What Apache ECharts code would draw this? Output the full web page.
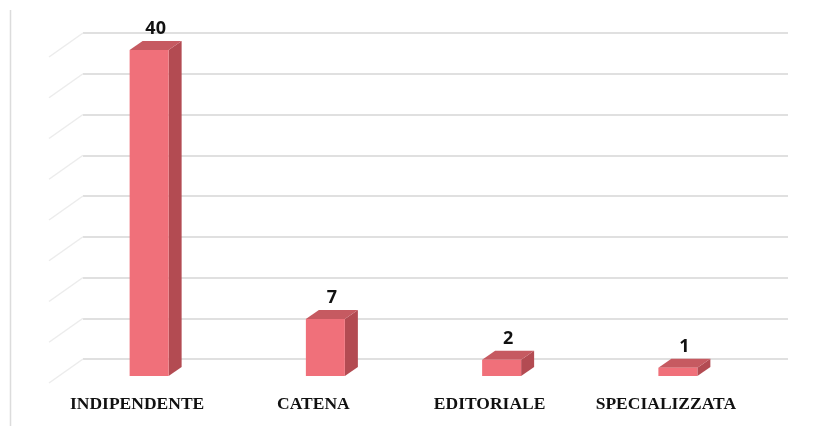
<!DOCTYPE html>
<html>
<head>
<meta charset="utf-8">
<script src="https://cdn.jsdelivr.net/npm/echarts@6/dist/echarts.min.js"></script>
<style>html,body{margin:0;padding:0;background:#fff;}#c{width:823px;height:426px;}</style>
</head>
<body>
<div id="c"></div>
<script>
var categories = ['INDIPENDENTE', 'CATENA', 'EDITORIALE', 'SPECIALIZZATA'];
var values = [40, 7, 2, 1];
var tickValues = [0, 5, 10, 15, 20, 25, 30, 35, 40];

var FRONT = '#F0707A', SIDE = '#B34B52', TOP = '#C65A61';

var chart = echarts.init(document.getElementById('c'));

function barItem(params, api) {
  var i = api.value(0), v = api.value(1);
  var top = api.coord([i, v]), base = api.coord([i, 0]);
  var cx = top[0] - 22, yt = top[1] + 17, yb = base[1] + 17;
  var w = 39, dx = 13, dy = -9;
  var x0 = cx - w / 2, x1 = cx + w / 2;
  return {
    type: 'group',
    children: [
      { type: 'polygon', shape: { points: [[x1, yt], [x1 + dx, yt + dy], [x1 + dx, yb + dy], [x1, yb]] }, style: { fill: SIDE } },
      { type: 'polygon', shape: { points: [[x0, yt], [x1, yt], [x1 + dx, yt + dy], [x0 + dx, yt + dy]] }, style: { fill: TOP } },
      { type: 'rect', shape: { x: x0, y: yt, width: w, height: yb - yt }, style: { fill: FRONT } },
      { type: 'text', style: { text: String(v), x: cx + dx / 2, y: yt - 21, align: 'center', verticalAlign: 'middle', font: 'bold 18px "Noto Sans"', fill: '#111' } }
    ]
  };
}

function sideLine(params, api) {
  var v = api.value(1);
  var p = api.coord([0, v]);
  var x = params.coordSys.x;
  return { type: 'line', shape: { x1: x, y1: p[1], x2: x - 34, y2: p[1] + 24 }, style: { stroke: '#ececec', lineWidth: 1.5 } };
}

chart.setOption({
  animation: false,
  backgroundColor: '#fff',
  graphic: [{ type: 'line', shape: { x1: 10.5, y1: 10, x2: 10.5, y2: 426 }, style: { stroke: '#dcdcdc', lineWidth: 1.5 } }],
  grid: [
    { left: 83, right: 35, top: 33, bottom: 67 },
    { left: 49, right: 69, top: 57, bottom: 43 }
  ],
  xAxis: [
    { gridIndex: 0, type: 'category', data: categories, axisLine: { show: false }, axisTick: { show: false }, axisLabel: { show: false } },
    { gridIndex: 1, type: 'category', data: categories, axisLine: { show: false }, axisTick: { show: false },
      axisLabel: { interval: 0, hideOverlap: false, margin: 12, fontFamily: '"Liberation Serif", serif', fontWeight: 'bold', fontSize: 17.5, color: '#111' } }
  ],
  yAxis: [
    { gridIndex: 0, type: 'value', min: 0, max: 40, interval: 5, axisLine: { show: false }, axisTick: { show: false }, axisLabel: { show: false },
      splitLine: { lineStyle: { color: '#d6d6d6', width: 1.5 } } },
    { gridIndex: 1, type: 'value', min: 0, max: 40, show: false, splitLine: { show: false } }
  ],
  series: [
    { type: 'custom', xAxisIndex: 0, yAxisIndex: 0, renderItem: sideLine, data: tickValues.map(function (t) { return [0, t]; }), silent: true, z: 1 },
    { type: 'custom', xAxisIndex: 0, yAxisIndex: 0, renderItem: barItem, data: values.map(function (v, i) { return [i, v]; }), z: 5 }
  ]
});
</script>
</body>
</html>
